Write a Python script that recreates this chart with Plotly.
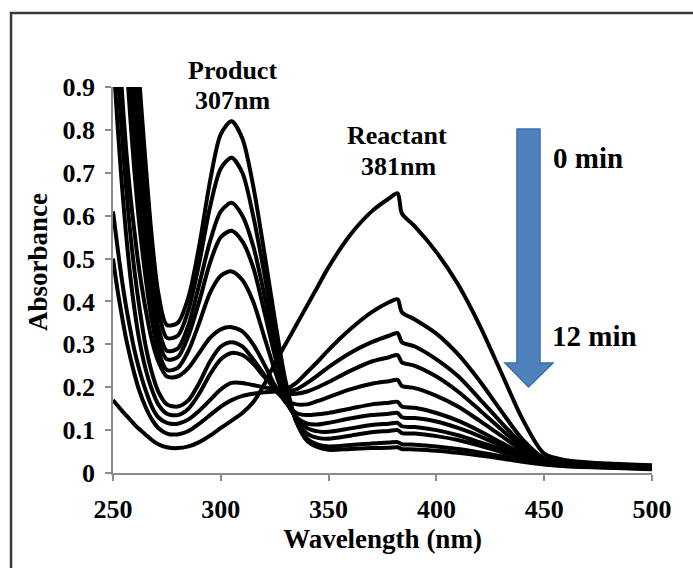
import plotly.graph_objects as go

# Wavelength grid (nm)
wavelength = [250, 252, 254, 256, 258, 260, 262, 265, 268, 271, 275, 280, 285, 290, 295,
              300, 305, 310, 315, 320, 325, 330, 335, 340, 345, 350, 360, 370, 378, 382,
              384, 390, 400, 410, 420, 430, 440, 450, 460, 480, 500]

# Absorbance spectra, 0 min ... 12 min
abs_t0 = [0.17, 0.158, 0.146, 0.135, 0.124, 0.113, 0.103, 0.09, 0.077, 0.067, 0.06, 0.058, 0.062,
          0.072, 0.087, 0.105, 0.122, 0.14, 0.165, 0.205, 0.255, 0.30, 0.345, 0.39, 0.435, 0.48,
          0.555, 0.61, 0.64, 0.652, 0.605, 0.575, 0.515, 0.44, 0.345, 0.235, 0.125, 0.045, 0.03, 0.022, 0.018]
abs_t1 = [0.50, 0.43, 0.37, 0.315, 0.27, 0.23, 0.195, 0.155, 0.125, 0.105, 0.092, 0.09, 0.098,
          0.115, 0.135, 0.155, 0.17, 0.18, 0.185, 0.188, 0.19, 0.195, 0.21, 0.235, 0.26, 0.287,
          0.335, 0.375, 0.398, 0.405, 0.375, 0.358, 0.325, 0.277, 0.215, 0.145, 0.078, 0.035, 0.027, 0.02, 0.016]
abs_t2 = [0.61, 0.53, 0.455, 0.39, 0.335, 0.285, 0.245, 0.195, 0.155, 0.13, 0.117, 0.115, 0.125,
          0.145, 0.17, 0.195, 0.21, 0.21, 0.205, 0.2, 0.195, 0.19, 0.195, 0.21, 0.228, 0.247,
          0.28, 0.305, 0.32, 0.326, 0.305, 0.295, 0.265, 0.226, 0.173, 0.118, 0.067, 0.032, 0.025, 0.019, 0.015]
abs_t3 = [0.98, 0.82, 0.68, 0.56, 0.46, 0.38, 0.315, 0.245, 0.195, 0.16, 0.138, 0.135, 0.15,
          0.185, 0.23, 0.265, 0.28, 0.275, 0.255, 0.225, 0.2, 0.185, 0.185, 0.19, 0.2, 0.212,
          0.238, 0.26, 0.27, 0.275, 0.258, 0.25, 0.225, 0.19, 0.147, 0.102, 0.06, 0.03, 0.024, 0.018, 0.014]
abs_t4 = [1.1, 0.95, 0.8, 0.67, 0.56, 0.47, 0.395, 0.3, 0.235, 0.19, 0.16, 0.155, 0.17,
          0.21, 0.26, 0.295, 0.305, 0.295, 0.265, 0.23, 0.195, 0.17, 0.16, 0.16, 0.168, 0.177,
          0.195, 0.208, 0.214, 0.217, 0.203, 0.198, 0.18, 0.155, 0.122, 0.087, 0.052, 0.028, 0.022, 0.017, 0.013]
abs_t5 = [1.2, 1.05, 0.9, 0.76, 0.65, 0.56, 0.48, 0.385, 0.31, 0.26, 0.225, 0.225, 0.245,
          0.28, 0.315, 0.335, 0.34, 0.33, 0.3, 0.255, 0.205, 0.165, 0.14, 0.135, 0.137, 0.14,
          0.15, 0.16, 0.164, 0.166, 0.155, 0.152, 0.14, 0.122, 0.098, 0.071, 0.044, 0.026, 0.021, 0.016, 0.013]
abs_t6 = [1.5, 1.35, 1.15, 0.98, 0.83, 0.7, 0.59, 0.46, 0.355, 0.285, 0.24, 0.245, 0.285,
          0.35, 0.42, 0.46, 0.47, 0.45, 0.4, 0.32, 0.24, 0.17, 0.13, 0.115, 0.113, 0.117,
          0.127, 0.135, 0.138, 0.14, 0.13, 0.128, 0.12, 0.105, 0.086, 0.063, 0.041, 0.025, 0.02, 0.016, 0.012]
abs_t7 = [1.6, 1.45, 1.28, 1.1, 0.93, 0.79, 0.66, 0.51, 0.39, 0.31, 0.265, 0.27, 0.32,
          0.4, 0.49, 0.55, 0.565, 0.54, 0.48, 0.38, 0.275, 0.185, 0.13, 0.105, 0.097, 0.096,
          0.104, 0.112, 0.115, 0.117, 0.109, 0.107, 0.1, 0.088, 0.072, 0.055, 0.037, 0.024, 0.019, 0.015, 0.012]
abs_t8 = [1.7, 1.55, 1.38, 1.2, 1.03, 0.88, 0.74, 0.57, 0.43, 0.34, 0.285, 0.29, 0.345,
          0.44, 0.54, 0.61, 0.63, 0.6, 0.53, 0.42, 0.3, 0.195, 0.125, 0.092, 0.082, 0.08,
          0.087, 0.095, 0.098, 0.1, 0.093, 0.092, 0.086, 0.077, 0.064, 0.049, 0.034, 0.023, 0.018, 0.014, 0.011]
abs_t9 = [1.8, 1.65, 1.48, 1.3, 1.13, 0.98, 0.84, 0.65, 0.49, 0.38, 0.315, 0.32, 0.38,
          0.49, 0.62, 0.71, 0.735, 0.7, 0.6, 0.47, 0.33, 0.205, 0.12, 0.08, 0.066, 0.062,
          0.065, 0.069, 0.071, 0.072, 0.067, 0.066, 0.062, 0.056, 0.048, 0.039, 0.029, 0.021, 0.017, 0.013, 0.01]
abs_t10 = [1.9, 1.75, 1.58, 1.4, 1.23, 1.07, 0.93, 0.73, 0.55, 0.42, 0.345, 0.35, 0.41,
           0.53, 0.68, 0.79, 0.82, 0.78, 0.67, 0.52, 0.36, 0.215, 0.12, 0.075, 0.06, 0.054,
           0.056, 0.058, 0.059, 0.06, 0.056, 0.055, 0.052, 0.047, 0.041, 0.034, 0.026, 0.02, 0.016, 0.012, 0.009]

series = [abs_t0, abs_t1, abs_t2, abs_t3, abs_t4, abs_t5, abs_t6, abs_t7, abs_t8, abs_t9, abs_t10]
series_names = ["0 min", "1.2 min", "2.4 min", "3.6 min", "4.8 min", "6 min",
                "7.2 min", "8.4 min", "9.6 min", "10.8 min", "12 min"]

x_ticks = [250, 300, 350, 400, 450, 500]
y_ticks = [0, 0.1, 0.2, 0.3, 0.4, 0.5, 0.6, 0.7, 0.8, 0.9]

FONT = "Liberation Serif, Times New Roman, serif"

fig = go.Figure()
for name, ys in zip(series_names, series):
    fig.add_trace(go.Scatter(x=wavelength, y=ys, mode="lines", name=name,
                             line=dict(color="black", width=4, shape="spline", smoothing=0.8),
                             showlegend=False))

axis_common = dict(showgrid=False, zeroline=False, showline=True, linecolor="#8c8c8c",
                   linewidth=1.5, ticks="outside", tickcolor="#8c8c8c", ticklen=6, tickwidth=1.5,
                   tickfont=dict(family=FONT, size=26, color="black", weight="bold"))

fig.update_xaxes(range=[250, 500], tickvals=x_ticks, ticklabelstandoff=6, **axis_common,
                 title=dict(text="Wavelength (nm)", standoff=4,
                            font=dict(family=FONT, size=27, color="black", weight="bold")))
fig.update_yaxes(range=[0, 0.9], tickvals=y_ticks, ticktext=[f"{v:g}" for v in y_ticks],
                 ticklabelstandoff=5, **axis_common)

# Y-axis title (placed as in the original, slightly above centre)
fig.add_annotation(text="Absorbance", x=-0.139, y=0.547, xref="paper", yref="paper",
                   showarrow=False, textangle=-90, xanchor="center", yanchor="middle",
                   font=dict(family=FONT, size=27, color="black", weight="bold"))

ann_font = dict(family=FONT, size=26, color="black", weight="bold")
annots = [
    ("Product", 0.2226, 1.044, "center"),
    ("307nm", 0.2226, 0.966, "center"),
    ("Reactant", 0.5269, 0.8756, "center"),
    ("381nm", 0.529, 0.795, "center"),
]
for txt, ax_, ay_, al in annots:
    fig.add_annotation(text=txt, x=ax_, y=ay_, xref="paper", yref="paper", showarrow=False,
                       xanchor=al, yanchor="middle", font=ann_font)
for txt, ax_, ay_ in [("0 min", 0.8125, 0.816), ("12 min", 0.8105, 0.355)]:
    fig.add_annotation(text=txt, x=ax_, y=ay_, xref="paper", yref="paper", showarrow=False,
                       xanchor="left", yanchor="middle",
                       font=dict(family=FONT, size=29, color="black", weight="bold"))

# Blue down arrow (time direction)
arrow_path = ("M 0.7495,0.891 L 0.7922,0.891 L 0.7922,0.285 L 0.8163,0.285 "
              "L 0.7709,0.2228 L 0.7273,0.285 L 0.7495,0.285 Z")
fig.add_shape(type="path", path=arrow_path, xref="paper", yref="paper",
              fillcolor="#4F81BD", line=dict(color="#3C6EA8", width=1.5))

# Outer frame (top and left edges visible)
fig.add_shape(type="path", path="M -0.1892,-0.3 L -0.1892,1.1917 L 1.2,1.1917",
              xref="paper", yref="paper", line=dict(color="#3a3a3a", width=2.5))

fig.update_layout(width=693, height=568, margin=dict(l=113, r=41, t=87, b=95),
                  paper_bgcolor="white", plot_bgcolor="white", showlegend=False)

fig.write_html("out.html")
